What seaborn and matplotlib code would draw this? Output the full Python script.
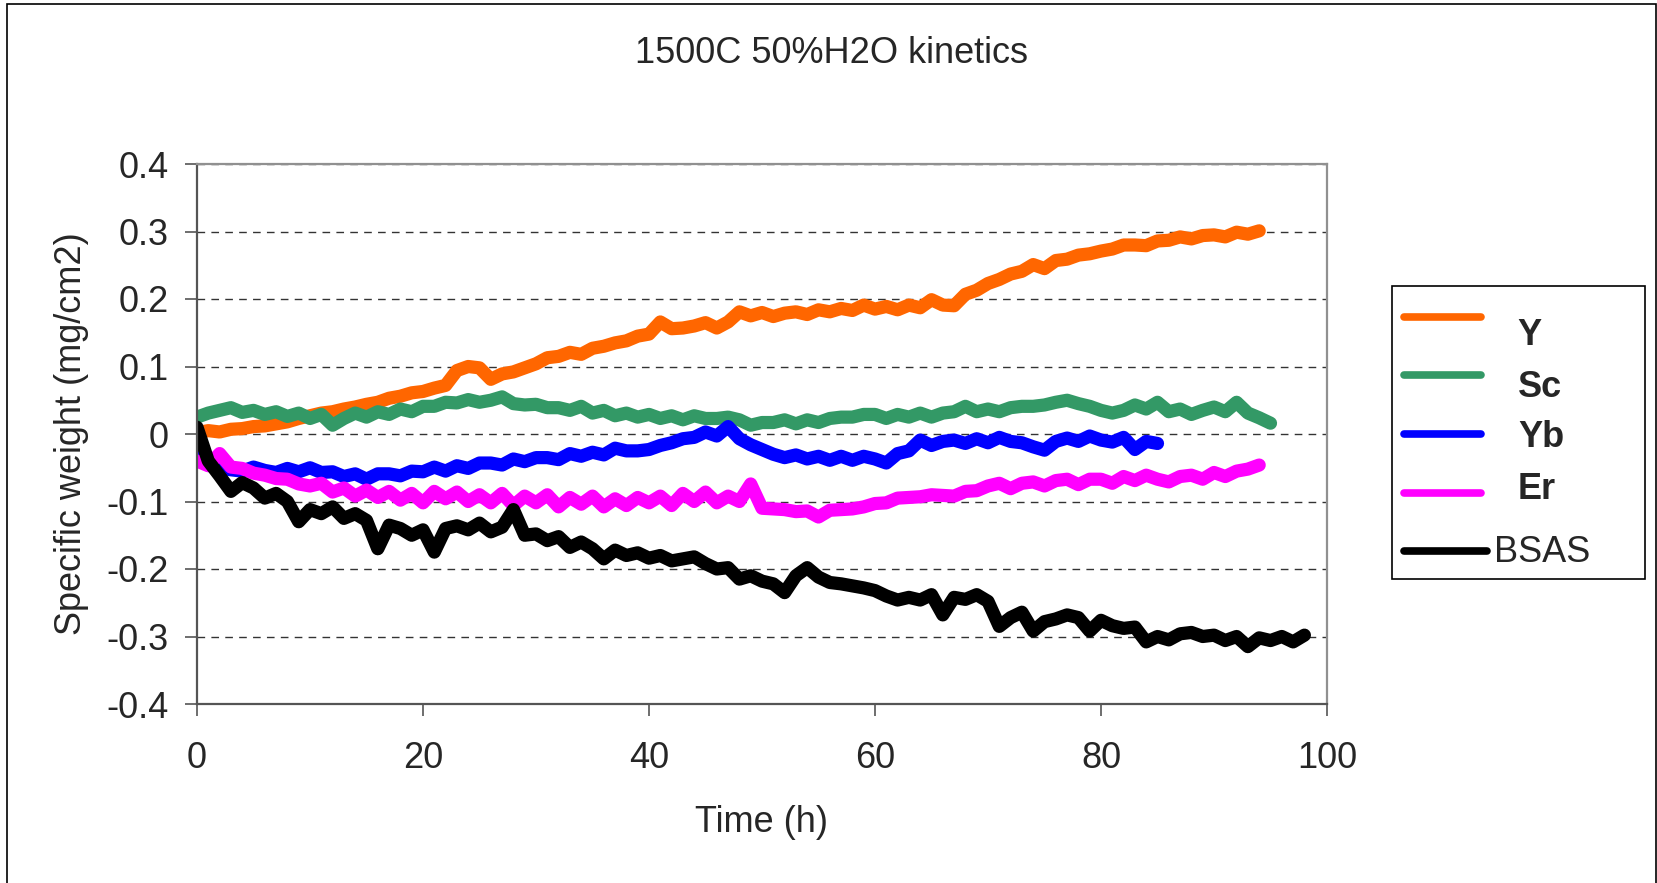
import numpy as np
import pandas as pd
import matplotlib
matplotlib.use("Agg")
import matplotlib.pyplot as plt
from matplotlib.lines import Line2D
from matplotlib.patches import Rectangle
import seaborn as sns

# ---------------- DATA (one value per hour) ----------------
SAMPLES = ["Y", "Sc", "Yb", "Er", "BSAS"]
COLORS = {"Y": "#FF6600", "Sc": "#339966", "Yb": "#0000FF", "Er": "#FF00FF", "BSAS": "#000000"}

y_weight = [
    0.002, 0.005, 0.003, 0.007, 0.008, 0.011, 0.012, 0.015, 0.018, 0.023,
    0.027, 0.031, 0.033, 0.037, 0.040, 0.044, 0.047, 0.053, 0.056, 0.061,
    0.063, 0.068, 0.072, 0.094, 0.100, 0.098, 0.081, 0.089, 0.092, 0.098,
    0.104, 0.113, 0.115, 0.121, 0.118, 0.127, 0.130, 0.135, 0.138, 0.145,
    0.148, 0.166, 0.156, 0.157, 0.160, 0.165, 0.157, 0.166, 0.181, 0.175,
    0.180, 0.174, 0.179, 0.181, 0.177, 0.184, 0.181, 0.186, 0.183, 0.191,
    0.185, 0.189, 0.184, 0.191, 0.187, 0.199, 0.191, 0.190, 0.207, 0.213,
    0.223, 0.229, 0.237, 0.241, 0.251, 0.245, 0.257, 0.259, 0.265, 0.267,
    0.271, 0.274, 0.280, 0.280, 0.279, 0.286, 0.287, 0.292, 0.289, 0.294,
    0.295, 0.292, 0.299, 0.296, 0.301,
]

sc_weight = [
    0.025, 0.031, 0.035, 0.039, 0.032, 0.035, 0.029, 0.033, 0.026, 0.031,
    0.023, 0.029, 0.013, 0.023, 0.031, 0.025, 0.033, 0.029, 0.037, 0.033,
    0.041, 0.041, 0.047, 0.046, 0.051, 0.047, 0.050, 0.055, 0.045, 0.043,
    0.044, 0.039, 0.039, 0.035, 0.041, 0.031, 0.035, 0.027, 0.031, 0.025,
    0.029, 0.023, 0.027, 0.021, 0.027, 0.023, 0.023, 0.025, 0.021, 0.013,
    0.017, 0.017, 0.021, 0.015, 0.021, 0.017, 0.023, 0.025, 0.025, 0.029,
    0.029, 0.023, 0.029, 0.025, 0.031, 0.025, 0.031, 0.033, 0.041, 0.033,
    0.037, 0.033, 0.039, 0.041, 0.041, 0.043, 0.047, 0.050, 0.045, 0.041,
    0.035, 0.031, 0.035, 0.043, 0.037, 0.047, 0.033, 0.037, 0.029, 0.035,
    0.040, 0.033, 0.047, 0.031, 0.024, 0.016,
]

yb_weight = [
    -0.030, -0.046, -0.050, -0.053, -0.055, -0.049, -0.054, -0.057, -0.051, -0.056,
    -0.050, -0.057, -0.056, -0.063, -0.059, -0.067, -0.059, -0.059, -0.062, -0.055,
    -0.056, -0.049, -0.055, -0.047, -0.051, -0.043, -0.043, -0.046, -0.037, -0.041,
    -0.035, -0.035, -0.038, -0.029, -0.033, -0.027, -0.031, -0.021, -0.025, -0.025,
    -0.023, -0.017, -0.013, -0.007, -0.005, 0.003, -0.003, 0.011, -0.007, -0.016,
    -0.023, -0.030, -0.035, -0.031, -0.037, -0.033, -0.039, -0.033, -0.039, -0.033,
    -0.037, -0.043, -0.029, -0.025, -0.009, -0.017, -0.011, -0.009, -0.014, -0.007,
    -0.013, -0.005, -0.011, -0.013, -0.019, -0.024, -0.011, -0.006, -0.011, -0.003,
    -0.009, -0.012, -0.005, -0.023, -0.011, -0.014,
]

er_weight = [
    -0.040, -0.047, -0.029, -0.049, -0.051, -0.058, -0.061, -0.066, -0.067, -0.074,
    -0.077, -0.073, -0.086, -0.080, -0.092, -0.083, -0.094, -0.085, -0.098, -0.088,
    -0.102, -0.085, -0.096, -0.086, -0.100, -0.090, -0.102, -0.088, -0.106, -0.092,
    -0.102, -0.090, -0.108, -0.094, -0.104, -0.092, -0.108, -0.096, -0.106, -0.094,
    -0.102, -0.092, -0.106, -0.088, -0.100, -0.086, -0.102, -0.092, -0.100, -0.074,
    -0.110, -0.111, -0.112, -0.115, -0.114, -0.123, -0.113, -0.112, -0.111, -0.108,
    -0.103, -0.102, -0.095, -0.094, -0.093, -0.090, -0.091, -0.092, -0.085, -0.084,
    -0.077, -0.073, -0.081, -0.073, -0.071, -0.077, -0.069, -0.067, -0.075, -0.067,
    -0.067, -0.073, -0.063, -0.069, -0.061, -0.067, -0.071, -0.063, -0.061, -0.067,
    -0.057, -0.063, -0.055, -0.052, -0.046,
]

bsas_weight = [
    0.010, -0.040, -0.062, -0.085, -0.072, -0.080, -0.095, -0.088, -0.100, -0.130,
    -0.112, -0.118, -0.108, -0.125, -0.118, -0.128, -0.170, -0.135, -0.140, -0.150,
    -0.142, -0.175, -0.140, -0.136, -0.142, -0.132, -0.145, -0.138, -0.112, -0.150,
    -0.148, -0.158, -0.152, -0.168, -0.160, -0.170, -0.185, -0.172, -0.180, -0.176,
    -0.184, -0.180, -0.188, -0.185, -0.182, -0.192, -0.200, -0.198, -0.215, -0.210,
    -0.218, -0.222, -0.235, -0.210, -0.198, -0.212, -0.220, -0.222, -0.225, -0.228,
    -0.232, -0.240, -0.246, -0.242, -0.246, -0.238, -0.268, -0.242, -0.245, -0.238,
    -0.248, -0.285, -0.272, -0.264, -0.292, -0.278, -0.274, -0.268, -0.272, -0.292,
    -0.276, -0.284, -0.288, -0.286, -0.308, -0.300, -0.305, -0.296, -0.294, -0.300,
    -0.298, -0.306, -0.300, -0.315, -0.302, -0.306, -0.300, -0.308, -0.298,
]

X_TICKS = [0, 20, 40, 60, 80, 100]
Y_TICKS = [-0.4, -0.3, -0.2, -0.1, 0.0, 0.1, 0.2, 0.3, 0.4]
Y_TICK_LABELS = ["-0.4", "-0.3", "-0.2", "-0.1", "0", "0.1", "0.2", "0.3", "0.4"]

series = {"Y": y_weight, "Sc": sc_weight, "Yb": yb_weight, "Er": er_weight, "BSAS": bsas_weight}
df = pd.concat(
    [pd.DataFrame({"hours": np.arange(len(v)), "weight": v, "sample": k}) for k, v in series.items()],
    ignore_index=True,
)

# ---------------- FIGURE ----------------
W, H = 1658, 883
sns.set_style("white")
plt.rcParams["font.family"] = ["Liberation Sans", "DejaVu Sans"]
FS = 26

fig = plt.figure(figsize=(W / 100, H / 100), dpi=100)
ax = fig.add_axes([197 / W, 1 - 704 / H, 1130 / W, 540 / H])

sns.lineplot(
    data=df, x="hours", y="weight", hue="sample", hue_order=SAMPLES,
    palette=COLORS, linewidth=9.5, estimator=None, sort=False, legend=False, ax=ax,
)
for line in ax.lines:
    line.set_solid_joinstyle("round")
    line.set_solid_capstyle("round")

ax.set_xlim(0, 100)
ax.set_ylim(-0.4, 0.4)
ax.set_xticks(X_TICKS)
ax.set_xticklabels([str(t) for t in X_TICKS], fontsize=FS)
ax.set_yticks(Y_TICKS)
ax.set_yticklabels(Y_TICK_LABELS, fontsize=FS)
ax.tick_params(axis="y", direction="out", length=8.6, width=1.2, color="#555555", pad=12, left=True)
ax.tick_params(axis="x", direction="out", length=8.6, width=1.2, color="#555555", pad=18, bottom=True)

ax.grid(axis="y", color="#333333", linestyle=(0, (5.5, 4.5)), linewidth=1)
ax.grid(axis="x", visible=False)
ax.set_axisbelow(True)

for side in ["left", "bottom"]:
    ax.spines[side].set_color("#555555")
    ax.spines[side].set_linewidth(1.6)
for side in ["top", "right"]:
    ax.spines[side].set_color("#909090")
    ax.spines[side].set_linewidth(1.6)

ax.set_xlabel("Time (h)", fontsize=FS)
ax.xaxis.label.set_va("baseline")
ax.xaxis.set_label_coords(0.5, -0.237)
ax.set_ylabel("Specific weight (mg/cm2)", fontsize=FS)
ax.yaxis.set_label_coords(-0.096, 0.5)

fig.text(832 / W, 1 - 63 / H, "1500C 50%H2O kinetics", ha="center", va="baseline", fontsize=FS)

# ---------------- LEGEND (Excel style, drawn by hand) ----------------
fig.add_artist(Rectangle((1392 / W, 1 - 579 / H), (1645 - 1392) / W, (579 - 286) / H,
                         transform=fig.transFigure, fill=False, ec="black", lw=1.2))
legend_rows = [
    ("Y", 317, 1481, 1517, 345, "bold"),
    ("Sc", 375, 1481, 1518, 397, "bold"),
    ("Yb", 434, 1481, 1518, 447, "bold"),
    ("Er", 493, 1481, 1518, 499, "bold"),
    ("BSAS", 551, 1487, 1494, 562, "normal"),
]
for name, ly, lx1, tx, ty, weight in legend_rows:
    fig.add_artist(Line2D([1404 / W, lx1 / W], [1 - ly / H, 1 - ly / H], transform=fig.transFigure,
                          color=COLORS[name], lw=5.5, solid_capstyle="round"))
    fig.text(tx / W, 1 - ty / H, name, fontsize=FS, fontweight=weight, ha="left", va="baseline")

# outer chart border
fig.add_artist(Rectangle((7 / W, -0.05), (1656 - 7) / W, 1.05 - 4 / H,
                         transform=fig.transFigure, fill=False, ec="black", lw=1.2))

fig.savefig("out.png", dpi=100)
plt.close(fig)
